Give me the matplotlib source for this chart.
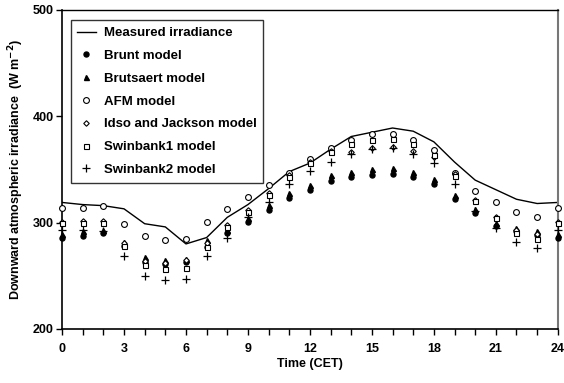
import numpy as np
import matplotlib.pyplot as plt

hours = list(range(25))
measured = [319, 317, 316, 313, 299, 296, 280, 286, 305, 317, 332, 348, 356,
            369, 381, 385, 389, 386, 376, 357, 340, 331, 322, 318, 319]
brunt = [286, 287, 290, 278, 263, 261, 263, 277, 290, 301, 312, 323, 331,
         339, 343, 345, 346, 343, 336, 322, 309, 297, 292, 288, 286]
brutsaert = [289, 292, 293, 282, 268, 265, 266, 284, 293, 304, 317, 328, 335,
             345, 348, 350, 351, 348, 341, 326, 313, 300, 295, 292, 289]
afm = [314, 314, 316, 299, 287, 284, 285, 301, 313, 324, 335, 347, 360,
       370, 378, 383, 383, 378, 368, 347, 330, 319, 310, 305, 314]
idso = [301, 302, 302, 281, 264, 262, 265, 281, 298, 312, 328, 345, 357,
        367, 366, 370, 371, 367, 362, 346, 321, 305, 293, 289, 301]
swin1 = [300, 300, 300, 278, 260, 256, 257, 277, 296, 310, 326, 343, 356,
         366, 374, 378, 379, 374, 364, 344, 320, 304, 290, 285, 300]
swin2 = [293, 293, 292, 269, 250, 246, 247, 269, 286, 305, 319, 336, 349,
         357, 365, 369, 370, 365, 356, 336, 311, 295, 282, 276, 293]

plt.rcParams['font.family'] = ['Liberation Sans', 'DejaVu Sans']
plt.rcParams['font.weight'] = 'bold'

fig = plt.figure(figsize=(5.64, 3.83), dpi=100)
ax = fig.add_axes([0.11, 0.141, 0.879, 0.833])

ax.plot(hours, measured, '-', color='black', lw=1.0, label='Measured irradiance')
kw = dict(ls='none', color='black', clip_on=False, zorder=3)
ax.plot(hours, brunt, 'o', ms=3.6, label='Brunt model', **kw)
ax.plot(hours, brutsaert, '^', ms=3.6, label='Brutsaert model', **kw)
ax.plot(hours, afm, 'o', ms=4.2, mfc='white', mew=0.8, label='AFM model', **kw)
ax.plot(hours, idso, 'D', ms=2.8, mfc='white', mew=0.8, label='Idso and Jackson model', **kw)
ax.plot(hours, swin1, 's', ms=3.6, mfc='white', mew=0.8, label='Swinbank1 model', **kw)
ax.plot(hours, swin2, '+', ms=5.5, mew=0.9, label='Swinbank2 model', **kw)

ax.set_xlim(0, 24)
ax.set_ylim(200, 500)
ax.set_xticks(range(0, 25, 3))
ax.set_xticks(range(0, 25), minor=True)
ax.set_yticks([200, 300, 400, 500])
ax.tick_params(axis='both', which='both', direction='out', labelsize=9, width=1, color='black')
ax.tick_params(axis='x', which='both', length=4, pad=6)
ax.tick_params(axis='y', length=4, pad=2)
for lab in ax.get_xticklabels() + ax.get_yticklabels():
    lab.set_fontweight('bold')

for s in ['left', 'bottom']:
    ax.spines[s].set_linewidth(1.2)
ax.spines['top'].set_linewidth(1.0)
ax.spines['right'].set_color('#777777')
ax.spines['right'].set_linewidth(1.5)

ax.set_xlabel('Time (CET)', fontsize=9, fontweight='bold', labelpad=2)
ax.set_ylabel('Downward atmospheric irradiance  (W m$^{\\mathbf{-2}}$)', fontsize=9,
              fontweight='bold', labelpad=5)

leg = ax.legend(loc='upper left', bbox_to_anchor=(0.004, 0.988), frameon=True, fancybox=False,
                edgecolor='black', handlelength=1.4, handletextpad=0.6,
                labelspacing=0.8, borderpad=0.5, prop={'weight': 'bold', 'size': 9.5})
leg.get_frame().set_linewidth(1.0)

fig.savefig('out.png', dpi=100)
